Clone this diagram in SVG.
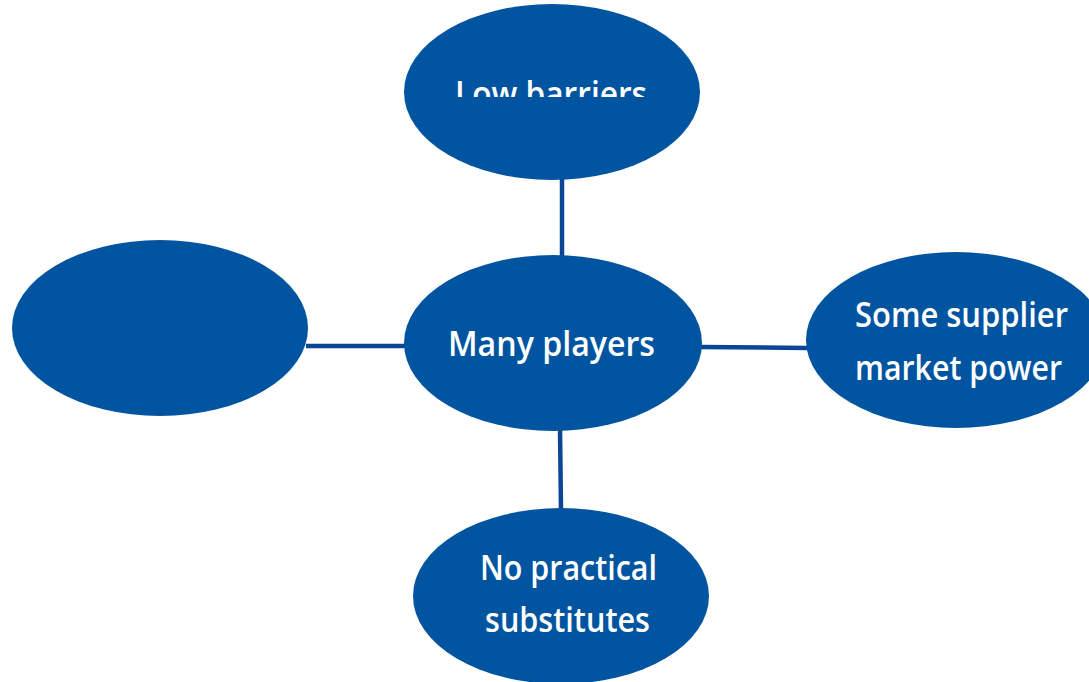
<svg xmlns="http://www.w3.org/2000/svg" width="1089" height="682" viewBox="0 0 1089 682">
<style>
.node{fill:#0054a0}
.lbl{fill:#ffffff;font-family:"Open Sans","Noto Sans",sans-serif;font-size:34px;font-weight:600}
.conn line{stroke:#0b4597;stroke-width:4.5}
</style>
<defs>
<clipPath id="clipTop"><rect x="400" y="0" width="310" height="97"/></clipPath>
</defs>
<rect width="1089" height="682" fill="#ffffff"/>
<g id="connectors" class="conn">
<line x1="562" y1="178" x2="562" y2="257"/>
<line x1="306" y1="346" x2="406" y2="346"/>
<line x1="700" y1="347" x2="808" y2="348"/>
<line x1="560" y1="428" x2="561" y2="510"/>
</g>
<g id="n-top">
<ellipse class="node" cx="552" cy="92" rx="148" ry="88"/>
<text class="lbl" x="455" y="106" textLength="192" lengthAdjust="spacingAndGlyphs" clip-path="url(#clipTop)">Low barriers</text>
</g>
<g id="n-left">
<ellipse class="node" cx="160" cy="328" rx="148" ry="88"/>
</g>
<g id="n-center">
<ellipse class="node" cx="553" cy="343" rx="149" ry="88"/>
<text class="lbl" x="448" y="356" textLength="207" lengthAdjust="spacingAndGlyphs">Many players</text>
</g>
<g id="n-right">
<ellipse class="node" cx="956" cy="340" rx="150" ry="88"/>
<text class="lbl" x="855" y="327" textLength="213" lengthAdjust="spacingAndGlyphs">Some supplier</text>
<text class="lbl" x="855" y="380" textLength="207" lengthAdjust="spacingAndGlyphs">market power</text>
</g>
<g id="n-bottom">
<ellipse class="node" cx="561" cy="596" rx="148" ry="88"/>
<text class="lbl" x="480" y="580" textLength="177" lengthAdjust="spacingAndGlyphs">No practical</text>
<text class="lbl" x="485" y="632" textLength="165" lengthAdjust="spacingAndGlyphs">substitutes</text>
</g>
</svg>
